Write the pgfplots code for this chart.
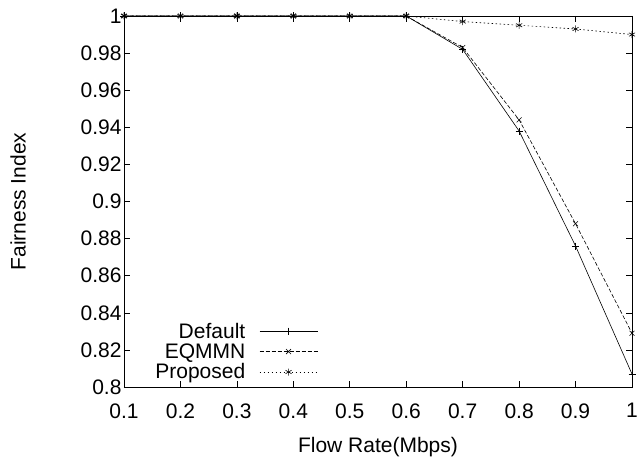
\documentclass[border=0pt]{standalone}
\usepackage{pgfplots}
\pgfplotsset{compat=1.18}
\usepackage{fontspec}
\setmainfont{Liberation Sans}
\newcommand{\bigf}{\fontsize{21bp}{25bp}\selectfont}
\begin{document}
\begin{tikzpicture}
\useasboundingbox (-124bp,-72bp) rectangle (516bp,387bp);
\begin{axis}[
  at={(0,0)}, anchor=south west,
  scale only axis, width=508bp, height=371bp,
  xmin=0.1, xmax=1, ymin=0.8, ymax=1,
  clip=false,
  /pgf/number format/assume math mode=true,
  xtick={0.1,0.2,0.3,0.4,0.5,0.6,0.7,0.8,0.9,1},
  xticklabels={0.1,0.2,0.3,0.4,0.5,0.6,0.7,0.8,0.9,1},
  ytick={0.8,0.82,0.84,0.86,0.88,0.9,0.92,0.94,0.96,0.98,1},
  yticklabels={0.8,0.82,0.84,0.86,0.88,0.9,0.92,0.94,0.96,0.98,1},
  tick align=inside, major tick length=6bp,
  axis line style={line width=0.8bp}, tick style={line width=0.6bp, black},
  xticklabel style={yshift=-13bp, font=\bigf},
  yticklabel style={xshift=1bp, font=\bigf},
  xlabel={Flow Rate(Mbps)}, ylabel={Fairness Index},
  xlabel style={at={(axis description cs:0.5,0)}, anchor=center, yshift=-60bp, font=\bigf},
  ylabel style={at={(axis description cs:0,0.5)}, anchor=center, yshift=106bp, font=\bigf},
  legend plot pos=right, legend cell align=right,
  legend style={draw=none, fill=none, at={(axis description cs:0.382,0.012)}, anchor=south east, inner sep=0pt, font=\fontsize{21bp}{23bp}\selectfont, row sep=0pt, column sep=12bp},
  legend image code/.code={\draw[mark repeat=2, mark phase=2, #1] plot coordinates {(0bp,0bp) (29bp,0bp) (58bp,0bp)};},
  every axis plot/.append style={black, line width=0.6bp, mark size=3.5bp},
]
\addplot[mark=+, mark options={solid}] coordinates {(0.1,1)(0.2,1)(0.3,1)(0.4,1)(0.5,1)(0.6,1)(0.7,0.982)(0.8,0.938)(0.9,0.876)(1.0,0.807)};
\addlegendentry{Default}
\addplot[mark=x, dash pattern=on 4bp off 2bp, mark options={solid}] coordinates {(0.1,1)(0.2,1)(0.3,1)(0.4,1)(0.5,1)(0.6,1)(0.7,0.983)(0.8,0.944)(0.9,0.888)(1.0,0.829)};
\addlegendentry{EQMMN}
\addplot[mark=asterisk, dash pattern=on 1.5bp off 2.5bp, mark options={solid}] coordinates {(0.1,1)(0.2,1)(0.3,1)(0.4,1)(0.5,1)(0.6,1)(0.7,0.997)(0.8,0.995)(0.9,0.993)(1.0,0.990)};
\addlegendentry{Proposed}
\end{axis}
\end{tikzpicture}
\end{document}
